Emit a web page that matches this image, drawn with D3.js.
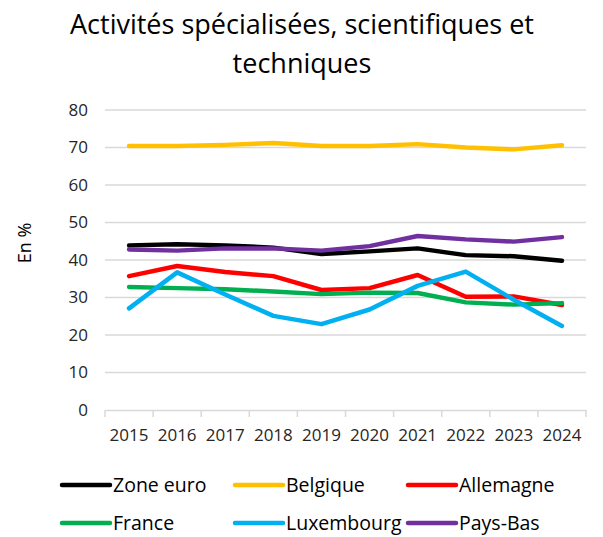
<!DOCTYPE html>
<html>
<head>
<meta charset="utf-8">
<script src="https://cdn.jsdelivr.net/npm/d3@7"></script>
<style>
  body { margin: 0; background: #fff; }
  text { font-family: "Open Sans", "Liberation Sans", sans-serif; fill: #262626; }
  .tickLabel { font-size: 17px; }
  .legendLabel { font-size: 19.5px; fill: #000; }
</style>
</head>
<body>
<div id="chart"></div>
<script>
var years = ["2015","2016","2017","2018","2019","2020","2021","2022","2023","2024"];
var seriesNames = ["Zone euro","Belgique","Allemagne","France","Luxembourg","Pays-Bas"];
var seriesColors = ["#000000","#FFC000","#FF0000","#00B050","#00B0F0","#7030A0"];

var zoneEuro   = [43.9, 44.2, 43.9, 43.3, 41.6, 42.3, 43.1, 41.3, 41.0, 39.8];
var belgique   = [70.4, 70.4, 70.7, 71.2, 70.4, 70.4, 70.9, 70.0, 69.5, 70.6];
var allemagne  = [35.7, 38.4, 36.8, 35.7, 32.0, 32.5, 36.0, 30.2, 30.3, 28.0];
var france     = [32.8, 32.5, 32.2, 31.6, 30.9, 31.3, 31.2, 28.7, 28.1, 28.5];
var luxembourg = [27.1, 36.7, 30.8, 25.1, 22.9, 26.8, 33.1, 36.9, 29.4, 22.4];
var paysBas    = [42.8, 42.5, 43.1, 43.1, 42.5, 43.7, 46.4, 45.5, 44.9, 46.1];

var yTicks = [0, 10, 20, 30, 40, 50, 60, 70, 80];

var allSeries = [zoneEuro, belgique, allemagne, france, luxembourg, paysBas];

var width = 603, height = 537;
var plot = {left: 105, right: 586, top: 110, bottom: 410};

var svg = d3.select("#chart").append("svg")
    .attr("width", width)
    .attr("height", height);

// title
var title = svg.append("text")
    .attr("text-anchor", "middle")
    .style("font-size", "27px")
    .style("fill", "#000");
title.append("tspan").attr("x", 302).attr("y", 34).text("Activités spécialisées, scientifiques et");
title.append("tspan").attr("x", 302).attr("y", 73).text("techniques");

var x = d3.scaleBand().domain(years).range([plot.left, plot.right]);
var y = d3.scaleLinear().domain([0, 80]).range([plot.bottom, plot.top]);

// gridlines
svg.append("g").selectAll("line")
    .data(yTicks.filter(function(d){ return d > 0; }))
    .enter().append("line")
    .attr("x1", plot.left)
    .attr("x2", plot.right)
    .attr("y1", function(d){ return y(d); })
    .attr("y2", function(d){ return y(d); })
    .style("stroke", "#d9d9d9")
    .style("stroke-width", 1.5);

// y axis labels
var yAxis = svg.append("g")
    .attr("transform", "translate(" + plot.left + ",0)")
    .call(d3.axisLeft(y).tickValues(yTicks).tickSize(0).tickPadding(17));
yAxis.select(".domain").remove();
yAxis.selectAll("text").attr("class", "tickLabel");
yAxis.attr("font-size", null).attr("font-family", null);

// x axis
var xAxis = svg.append("g")
    .attr("transform", "translate(0," + plot.bottom + ")")
    .call(d3.axisBottom(x).tickSize(0).tickPadding(19));
xAxis.select(".domain").style("stroke", "#d9d9d9").style("stroke-width", 1.5);
xAxis.selectAll("text").attr("class", "tickLabel");
xAxis.attr("font-size", null).attr("font-family", null);

// tick marks at band boundaries
var edges = years.map(function(d){ return x(d); }).concat([x(years[years.length-1]) + x.bandwidth()]);
svg.append("g").selectAll("line")
    .data(edges)
    .enter().append("line")
    .attr("x1", function(d){ return d; })
    .attr("x2", function(d){ return d; })
    .attr("y1", plot.bottom)
    .attr("y2", plot.bottom + 7)
    .style("stroke", "#d9d9d9")
    .style("stroke-width", 1.5);

// y axis title
svg.append("text")
    .attr("transform", "translate(31,243) rotate(-90)")
    .attr("text-anchor", "middle")
    .style("font-size", "18px")
    .style("fill", "#000")
    .text("En %");

// lines
var line = d3.line()
    .x(function(d, i){ return x(years[i]) + x.bandwidth()/2; })
    .y(function(d){ return y(d); });

svg.append("g").selectAll("path")
    .data(allSeries)
    .enter().append("path")
    .attr("d", line)
    .style("fill", "none")
    .style("stroke", function(d, i){ return seriesColors[i]; })
    .style("stroke-width", 4.5)
    .style("stroke-linejoin", "round")
    .style("stroke-linecap", "round");

// legend (second row sits low, as in the original)
var legendX = [62, 235, 408];
var legendY = [485, 523];
var legend = svg.append("g").selectAll("g")
    .data(seriesNames)
    .enter().append("g")
    .attr("transform", function(d, i){
        return "translate(" + legendX[i % 3] + "," + legendY[Math.floor(i / 3)] + ")";
    });
legend.append("line")
    .attr("x1", 0)
    .attr("x2", 48)
    .style("stroke", function(d, i){ return seriesColors[i]; })
    .style("stroke-width", 4.5)
    .style("stroke-linecap", "round");
legend.append("text")
    .attr("class", "legendLabel")
    .attr("x", 51)
    .attr("dy", "0.35em")
    .text(function(d){ return d; });
</script>
</body>
</html>
